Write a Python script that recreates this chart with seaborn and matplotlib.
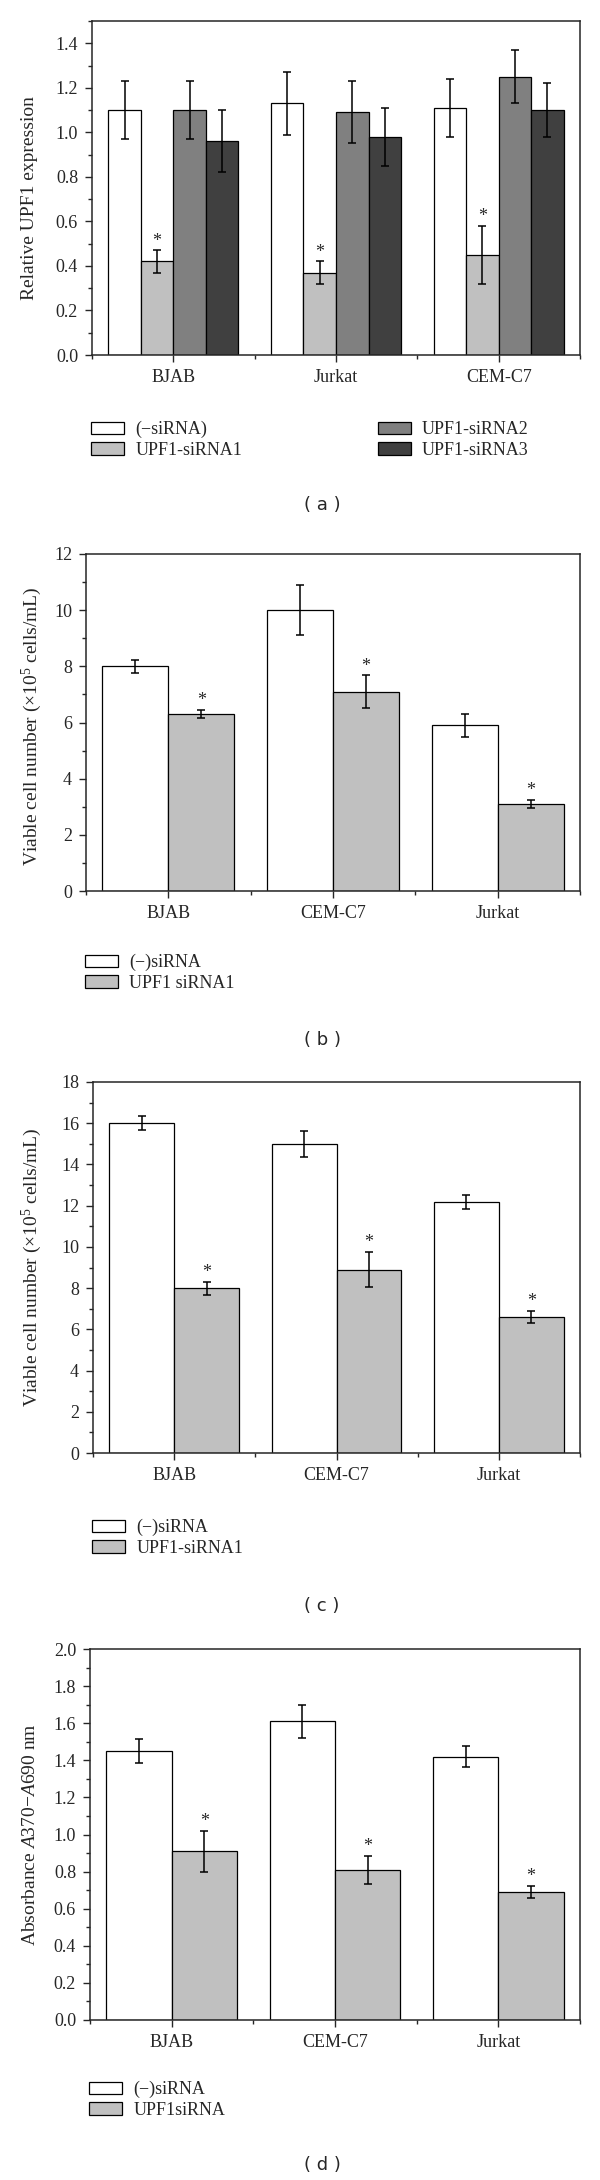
import pandas as pd
import matplotlib
matplotlib.use("Agg")
import matplotlib.pyplot as plt
from matplotlib.ticker import MultipleLocator, FixedLocator, FormatStrFormatter
import seaborn as sns

# (a) relative UPF1 expression
cells_a = ["BJAB", "Jurkat", "CEM-C7"]
groups_a = ["(\u2212siRNA)", "UPF1-siRNA1", "UPF1-siRNA2", "UPF1-siRNA3"]
mean_a = [[1.10, 1.13, 1.11], [0.42, 0.37, 0.45], [1.10, 1.09, 1.25], [0.96, 0.98, 1.10]]
err_a = [[0.13, 0.14, 0.13], [0.05, 0.05, 0.13], [0.13, 0.14, 0.12], [0.14, 0.13, 0.12]]

# (b) viable cells
cells_b = ["BJAB", "CEM-C7", "Jurkat"]
groups_b = ["(\u2212)siRNA", "UPF1 siRNA1"]
mean_b = [[8.0, 10.0, 5.9], [6.3, 7.1, 3.1]]
err_b = [[0.22, 0.88, 0.42], [0.14, 0.58, 0.15]]

# (c) viable cells
cells_c = ["BJAB", "CEM-C7", "Jurkat"]
groups_c = ["(\u2212)siRNA", "UPF1-siRNA1"]
mean_c = [[16.0, 15.0, 12.2], [8.0, 8.9, 6.6]]
err_c = [[0.35, 0.64, 0.34], [0.31, 0.87, 0.31]]

# (d) absorbance
cells_d = ["BJAB", "CEM-C7", "Jurkat"]
groups_d = ["(\u2212)siRNA", "UPF1siRNA"]
mean_d = [[1.45, 1.61, 1.42], [0.91, 0.81, 0.69]]
err_d = [[0.066, 0.09, 0.055], [0.11, 0.075, 0.034]]

colors4 = ["#ffffff", "#c0c0c0", "#808080", "#404040"]
colors2 = ["#ffffff", "#c0c0c0"]

sns.set_style("ticks")
plt.rcParams["font.family"] = ["Liberation Serif", "DejaVu Serif"]
plt.rcParams["mathtext.fontset"] = "custom"
plt.rcParams["mathtext.rm"] = "Liberation Serif"
plt.rcParams["mathtext.it"] = "Liberation Serif:italic"

W, H = 600, 2180
fig = plt.figure(figsize=(6, 21.8), dpi=100)


def box(left, right, top, bottom):
    return [left / W, 1 - bottom / H, (right - left) / W, (bottom - top) / H]


def panel(rect, cells, groups, means, errs, colors, star_group, ylabel, ymax, step, minor, fmt,
          label_xy, leg_xy, ncol, tag, tag_y):
    ax = fig.add_axes(rect)
    df = pd.DataFrame([(c, g, m) for g, ms in zip(groups, means) for c, m in zip(cells, ms)],
                      columns=["cell", "group", "value"])
    sns.barplot(data=df, x="cell", y="value", hue="group", order=cells, hue_order=groups,
                palette=colors, saturation=1, edgecolor="black", linewidth=0.9,
                errorbar=None, legend=False, ax=ax)
    for cont, g, es in zip(ax.containers, groups, errs):
        for bar in cont:
            x = bar.get_x() + bar.get_width() / 2
            h = bar.get_height()
            e = es[int(round(x))]
            ax.errorbar(x, h, yerr=e, fmt="none", ecolor="black", elinewidth=1.1,
                        capsize=3.2, capthick=1.1)
            if g == star_group:
                ax.annotate("*", (x, h + e), xytext=(0, 0.5), textcoords="offset points",
                            ha="center", va="bottom", fontsize=13)
    ax.set_xlim(-0.5, len(cells) - 0.5)
    ax.set_ylim(0, ymax)
    ax.yaxis.set_major_locator(MultipleLocator(step))
    ax.yaxis.set_minor_locator(MultipleLocator(minor))
    ax.yaxis.set_major_formatter(FormatStrFormatter(fmt))
    ax.xaxis.set_minor_locator(FixedLocator([i - 0.5 for i in range(len(cells) + 1)]))
    ax.tick_params(which="major", direction="out", length=5, width=1, labelsize=13, pad=5)
    ax.tick_params(which="minor", direction="out", length=3, width=1)
    for s in ax.spines.values():
        s.set_linewidth(1.1)
    ax.set_xlabel("")
    ax.set_ylabel(ylabel, fontsize=14)
    ax.yaxis.set_label_coords(*label_xy)
    fig.legend(handles=list(ax.containers), labels=groups, loc="upper left",
               bbox_to_anchor=(leg_xy[0] / W, 1 - leg_xy[1] / H), ncol=ncol, frameon=False,
               fontsize=13, handlelength=1.85, handleheight=0.7, handletextpad=0.6,
               labelspacing=0.2, columnspacing=7.5, borderpad=0, borderaxespad=0)
    fig.text(322 / W, 1 - tag_y / H, tag, ha="center", va="center", fontsize=13,
             family="DejaVu Sans")
    return ax


panel(box(92, 580, 21, 355), cells_a, groups_a, mean_a, err_a, colors4, "UPF1-siRNA1",
      "Relative UPF1 expression", 1.5, 0.2, 0.1, "%.1f", (-0.11, 0.47), (91, 421), 2,
      "( a )", 505)
panel(box(86, 580, 554, 891), cells_b, groups_b, mean_b, err_b, colors2, "UPF1 siRNA1",
      r"Viable cell number ($\times$10$^5$ cells/mL)", 12, 2, 1, "%d", (-0.085, 0.49),
      (85, 954), 1, "( b )", 1040)
panel(box(93, 580, 1082, 1453), cells_c, groups_c, mean_c, err_c, colors2, "UPF1-siRNA1",
      r"Viable cell number ($\times$10$^5$ cells/mL)", 18, 2, 1, "%d", (-0.1, 0.5),
      (92, 1519), 1, "( c )", 1606)
panel(box(90, 580, 1649, 2020), cells_d, groups_d, mean_d, err_d, colors2, "UPF1siRNA",
      r"Absorbance $\mathit{A}$370$-$$\mathit{A}$690 nm", 2.0, 0.2, 0.1, "%.1f", (-0.105, 0.5),
      (89, 2081), 1, "( d )", 2165)

fig.savefig("out.png", dpi=100)
